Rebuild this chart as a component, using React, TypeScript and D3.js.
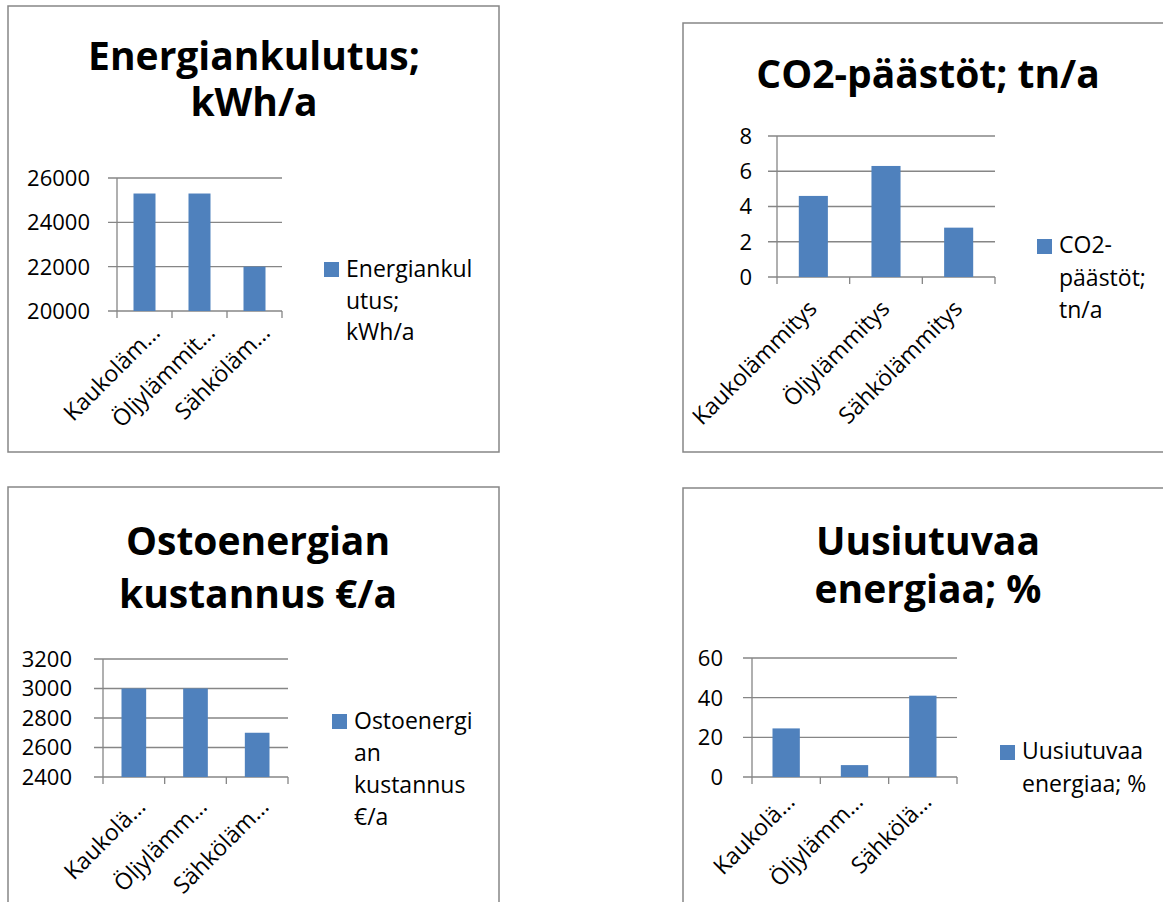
import { useEffect, useRef } from "react";
import * as d3 from "d3";

// heating options compared in all four charts
const categories = ["Kaukolämmitys", "Öljylämmitys", "Sähkölämmitys"];

// series values
const energyKwh = [25300, 25300, 22000];
const co2Tonnes = [4.6, 6.3, 2.8];
const purchaseCost = [3000, 3000, 2700];
const renewablePct = [24.5, 6, 41];

// category labels as Excel truncated them
const energyLabels = ["Kaukoläm…", "Öljylämmit…", "Sähköläm…"];
const co2Labels = categories;
const costLabels = ["Kaukolä…", "Öljylämm…", "Sähköläm…"];
const renewLabels = ["Kaukolä…", "Öljylämm…", "Sähkölä…"];

// titles and wrapped legend entries
const energyTitle = ["Energiankulutus;", "kWh/a"];
const co2Title = ["CO2-päästöt; tn/a"];
const costTitle = ["Ostoenergian", "kustannus €/a"];
const renewTitle = ["Uusiutuvaa", "energiaa; %"];

const energyLegend = ["Energiankul", "utus;", "kWh/a"];
const co2Legend = ["CO2-", "päästöt;", "tn/a"];
const costLegend = ["Ostoenergi", "an", "kustannus", "€/a"];
const renewLegend = ["Uusiutuvaa", "energiaa; %"];

// y axis ranges [min, max, step]
const energyAxis = [20000, 26000, 2000];
const co2Axis = [0, 8, 2];
const costAxis = [2400, 3200, 200];
const renewAxis = [0, 60, 20];

const BAR = "#4F81BD";
const GRID = "#868686";
const FONT = "'Open Sans', 'Noto Sans', sans-serif";

type Spec = {
  title: string[];
  titleX: number;
  titleY: number[];
  values: number[];
  labels: string[];
  axis: number[];
  frame: [number, number, number, number];
  plot: [number, number, number, number];
  labelRight: number;
  labelDx: number;
  labelDy: number;
  legend: { x: number; y: number; lines: string[]; base: number; lh: number };
};

const charts: Spec[] = [
  {
    title: energyTitle, titleX: 254, titleY: [70, 116],
    values: energyKwh, labels: energyLabels, axis: energyAxis,
    frame: [8, 6, 499, 452], plot: [117, 178, 282, 311],
    labelRight: 90, labelDx: 17, labelDy: 23,
    legend: { x: 324, y: 262, lines: energyLegend, base: 277, lh: 31.5 },
  },
  {
    title: co2Title, titleX: 928, titleY: [88],
    values: co2Tonnes, labels: co2Labels, axis: co2Axis,
    frame: [683, 23, 1180, 452], plot: [777, 136, 995, 277],
    labelRight: 752, labelDx: 5, labelDy: 33,
    legend: { x: 1037, y: 239, lines: co2Legend, base: 253, lh: 32.5 },
  },
  {
    title: costTitle, titleX: 258, titleY: [555, 608],
    values: purchaseCost, labels: costLabels, axis: costAxis,
    frame: [8, 487, 499, 920], plot: [103, 659, 288, 777],
    labelRight: 72, labelDx: 13, labelDy: 31,
    legend: { x: 332, y: 714, lines: costLegend, base: 729, lh: 32 },
  },
  {
    title: renewTitle, titleX: 928, titleY: [555, 603],
    values: renewablePct, labels: renewLabels, axis: renewAxis,
    frame: [683, 488, 1180, 920], plot: [752, 658, 957, 777],
    labelRight: 723, labelDx: 10, labelDy: 26,
    legend: { x: 1000, y: 745, lines: renewLegend, base: 759, lh: 33 },
  },
];

export default function App() {
  const svgRef = useRef<SVGSVGElement | null>(null);

  useEffect(() => {
    if (!svgRef.current) return;
    const svg = d3.select(svgRef.current);
    svg.selectAll("*").remove();

    charts.forEach((c) => {
      const g = svg.append("g");
      const [fx0, fy0, fx1, fy1] = c.frame;
      const [px0, py0, px1, py1] = c.plot;

      // chart border
      g.append("rect")
        .attr("x", fx0).attr("y", fy0)
        .attr("width", fx1 - fx0).attr("height", fy1 - fy0)
        .attr("fill", "#fff").attr("stroke", GRID).attr("stroke-width", 1.5);

      // title
      c.title.forEach((t, i) => {
        g.append("text")
          .attr("x", c.titleX).attr("y", c.titleY[i])
          .attr("text-anchor", "middle")
          .style("font", `700 39px ${FONT}`)
          .attr("fill", "#000")
          .text(t);
      });

      const [lo, hi, step] = c.axis;
      const y = d3.scaleLinear().domain([lo, hi]).range([py1, py0]);
      const x = d3.scaleBand<string>()
        .domain(c.labels)
        .range([px0, px1])
        .paddingInner(0.6)
        .paddingOuter(0.3);
      const ticks = d3.range(lo, hi + step / 2, step);

      // gridlines (with outside tick marks)
      g.selectAll("line.grid")
        .data(ticks)
        .enter()
        .append("line")
        .attr("x1", px0 - 9).attr("x2", px1)
        .attr("y1", (d) => y(d)).attr("y2", (d) => y(d))
        .attr("stroke", GRID).attr("stroke-width", 1.3);

      g.selectAll("text.ytick")
        .data(ticks)
        .enter()
        .append("text")
        .attr("x", c.labelRight).attr("y", (d) => y(d))
        .attr("dy", "0.36em")
        .attr("text-anchor", "end")
        .style("font", `22px ${FONT}`)
        .text((d) => String(d));

      // bars
      g.selectAll("rect.bar")
        .data(c.values)
        .enter()
        .append("rect")
        .attr("x", (_d, i) => x(c.labels[i])!)
        .attr("width", x.bandwidth())
        .attr("y", (d) => y(d))
        .attr("height", (d) => py1 - y(d))
        .attr("fill", BAR);

      // axes
      g.append("line")
        .attr("x1", px0).attr("x2", px0).attr("y1", py0).attr("y2", py1 + 7)
        .attr("stroke", GRID).attr("stroke-width", 1.3);
      const bounds = d3.range(1, c.labels.length + 1).map((i) => px0 + i * x.step());
      g.selectAll("line.xtick")
        .data(bounds)
        .enter()
        .append("line")
        .attr("x1", (d) => d).attr("x2", (d) => d)
        .attr("y1", py1).attr("y2", py1 + 7)
        .attr("stroke", GRID).attr("stroke-width", 1.3);

      // rotated category labels
      g.selectAll("text.xlab")
        .data(c.labels)
        .enter()
        .append("text")
        .attr("transform", (d) => {
          const cx = x(d)! + x.bandwidth() / 2 + c.labelDx;
          return `translate(${cx},${py1 + c.labelDy}) rotate(-45)`;
        })
        .attr("text-anchor", "end")
        .style("font", `23px ${FONT}`)
        .text((d) => d);

      // legend
      const L = c.legend;
      g.append("rect")
        .attr("x", L.x).attr("y", L.y).attr("width", 15).attr("height", 15)
        .attr("fill", BAR);
      L.lines.forEach((t, i) => {
        g.append("text")
          .attr("x", L.x + 22).attr("y", L.base + i * L.lh)
          .style("font", `23px ${FONT}`)
          .text(t);
      });
    });
  }, []);

  return (
    <div style={{ position: "fixed", left: 0, top: 0, background: "#fff" }}>
      <svg ref={svgRef} width={1163} height={902} style={{ display: "block" }} />
    </div>
  );
}
